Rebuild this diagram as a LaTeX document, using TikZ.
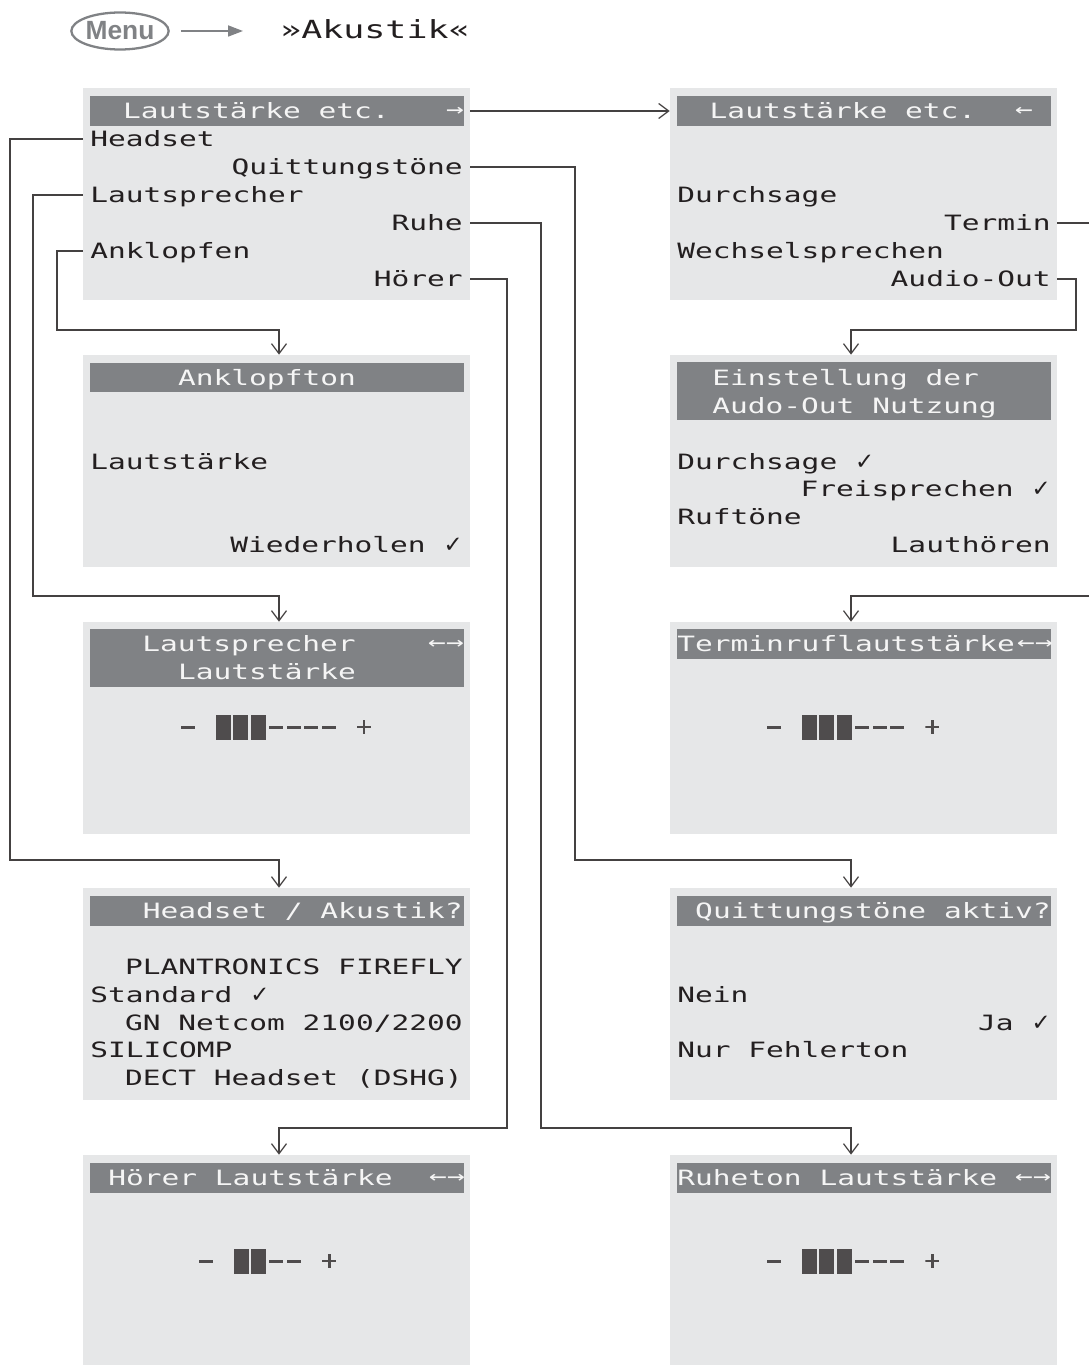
\documentclass[tikz,border=0pt]{standalone}
\usepackage{fontspec}
\usetikzlibrary{positioning,calc,arrows.meta,shapes.geometric}
\newfontfamily\lcdfont[FakeStretch=1.4]{DejaVu Sans Mono}
\newfontfamily\symfont{DejaVu Sans}
\newfontfamily\menufont{Liberation Sans}
\definecolor{BoxGray}{RGB}{230,231,232}
\definecolor{BarGray}{RGB}{128,130,133}
\definecolor{Ink}{RGB}{35,31,32}
\definecolor{LcdWhite}{RGB}{245,245,245}
\newcommand{\chk}{{\symfont\fontsize{13}{13}\selectfont ✓}}
\tikzset{
	box/.style={fill=BoxGray,inner sep=0pt,minimum width=7.74cm,minimum height=4.24cm},
	bar/.style={fill=BarGray,inner sep=0pt,minimum width=7.48cm,minimum height=0.6cm},
	tallbar/.style={bar,minimum height=1.16cm},
	txt/.style={font=\lcdfont\fontsize{12}{14}\selectfont,inner sep=0pt,text height=8.75pt,text depth=0pt,text=Ink},
	htxt/.style={txt,text=LcdWhite},
	harrow/.style={htxt,font=\lcdfont\fontsize{12}{12}\selectfont,text height=6pt},
	link/.style={draw=Ink!85,line width=0.7pt,-{Straight Barb[length=2mm,width=3mm]}},
	volDash/.style={fill=Ink!80,inner sep=0pt,minimum width=0.28cm,minimum height=0.06cm},
	volBlock/.style={fill=Ink!80,inner sep=0pt,minimum width=0.3cm,minimum height=0.5cm},
	volPlus/.style={inner sep=0pt,minimum size=0.28cm,path picture={
		\draw[Ink!80,line width=1.6pt] (path picture bounding box.north) -- (path picture bounding box.south)
			(path picture bounding box.west) -- (path picture bounding box.east);}},
}
% volume bar: name, x of minus, y, blocks, dashes
\newcommand{\volbar}[5]{%
	\node[volDash] (#1m) at (#2,#3) {};
	\foreach \i in {1,...,#4}
		\node[volBlock] (#1b\i) at ({#2+17.6*(\i+1)},#3) {};
	\foreach \j in {1,...,#5}
		\node[volDash] (#1d\j) at ({#2+17.6*(\j+#4+1)},#3) {};
	\node[volPlus] (#1p) at ({#2+17.6*(#4+#5+3)},#3) {};
}

\begin{document}
\begin{tikzpicture}[x=0.02cm,y=-0.02cm]
	\useasboundingbox (0,0) rectangle (1088,1365);
	% menu path
	\node[ellipse,draw=BarGray,line width=1.3pt,minimum width=1.9cm,minimum height=0.74cm,inner sep=0pt,
		font=\menufont\bfseries\fontsize{15}{15}\selectfont,text=BarGray] (menu) at (120,31) {Menu};
	\node[txt,anchor=west,font=\lcdfont\fontsize{14.2}{16}\selectfont,text height=10.3pt] (akus) at (280,29) {»Akustik«};
	\draw[draw=BarGray,line width=1pt,-{Triangle[length=3mm,width=2.2mm]},shorten <=0.22cm,shorten >=0.74cm]
		(menu.east) -- (menu.east -| akus.west);

	% screens, left column
	\node[box] (b1) at (276.5,194) {};
	\node[box] (b2) at (276.5,461) {};
	\node[box] (b3) at (276.5,728) {};
	\node[box] (b4) at (276.5,994) {};
	\node[box] (b5) at (276.5,1261) {};
	% screens, right column
	\node[box] (r1) at (863.5,194) {};
	\node[box] (r2) at (863.5,461) {};
	\node[box] (r3) at (863.5,728) {};
	\node[box] (r4) at (863.5,994) {};
	\node[box] (r5) at (863.5,1261) {};

	% title bars
	\node[bar] (b1h) at (277,111) {};
	\node[bar] (b2h) at (277,377.5) {};
	\node[tallbar] (b3h) at (277,657.5) {};
	\node[bar] (b4h) at (277,911) {};
	\node[bar] (b5h) at (277,1178) {};
	\node[bar] (r1h) at (864,111) {};
	\node[tallbar] (r2h) at (864,391) {};
	\node[bar] (r3h) at (864,644) {};
	\node[bar] (r4h) at (864,911) {};
	\node[bar] (r5h) at (864,1178) {};

	% title texts
	\node[htxt] (b1t) at (256.5,111) {Lautstärke etc.};
	\node[harrow] (b1a) at (455,111) {→};
	\node[htxt] (b2t) at (267,378) {Anklopfton};
	\node[htxt] (b3t) at (249,644) {Lautsprecher};
	\node[harrow] (b3a) at (446,644) {←→};
	\node[htxt] (b3u) at (267,672) {Lautstärke};
	\node[htxt,anchor=east] (b4t) at (463,911) {Headset / Akustik?};
	\node[htxt,anchor=west] (b5t) at (108,1178) {Hörer Lautstärke};
	\node[harrow] (b5a) at (447,1178) {←→};
	\node[htxt] (r1t) at (843,111) {Lautstärke etc.};
	\node[harrow] (r1a) at (1024,111) {←};
	\node[htxt,anchor=west] (r2t) at (712,378) {Einstellung der};
	\node[htxt,anchor=west] (r2u) at (712,406) {Audo-Out Nutzung};
	\node[htxt,anchor=west] (r3t) at (677,644) {Terminruflautstärke};
	\node[harrow] (r3a) at (1035,644) {←→};
	\node[htxt,anchor=east] (r4t) at (1051,911) {Quittungstöne aktiv?};
	\node[htxt,anchor=west] (r5t) at (677,1178) {Ruheton Lautstärke};
	\node[harrow] (r5a) at (1033,1178) {←→};

	% menu entries
	\node[txt,anchor=west] (hs) at (90,139) {Headset};
	\node[txt,anchor=east] (qt) at (463,167) {Quittungstöne};
	\node[txt,anchor=west] (ls) at (90,195) {Lautsprecher};
	\node[txt,anchor=east] (ru) at (463,223) {Ruhe};
	\node[txt,anchor=west] (ak) at (90,251) {Anklopfen};
	\node[txt,anchor=east] (hr) at (463,279) {Hörer};

	\node[txt,anchor=west] (ds) at (677,195) {Durchsage};
	\node[txt,anchor=east] (tm) at (1051,223) {Termin};
	\node[txt,anchor=west] (ws) at (677,251) {Wechselsprechen};
	\node[txt,anchor=east] (ao) at (1051,279) {Audio-Out};

	\node[txt,anchor=west] (akl) at (90,462) {Lautstärke};
	\node[txt,anchor=east] (akw) at (463,545) {Wiederholen \chk};

	\node[txt,anchor=east] (hs1) at (463,967) {PLANTRONICS FIREFLY};
	\node[txt,anchor=west] (hs2) at (90,995) {Standard \chk};
	\node[txt,anchor=east] (hs3) at (463,1023) {GN Netcom 2100/2200};
	\node[txt,anchor=west] (hs4) at (90,1050) {SILICOMP};
	\node[txt,anchor=east] (hs5) at (463,1078) {DECT Headset (DSHG)};

	\node[txt,anchor=west] (au1) at (677,462) {Durchsage \chk};
	\node[txt,anchor=east] (au2) at (1051,489) {Freisprechen \chk};
	\node[txt,anchor=west] (au3) at (677,517) {Ruftöne};
	\node[txt,anchor=east] (au4) at (1051,545) {Lauthören};

	\node[txt,anchor=west] (qt1) at (677,995) {Nein};
	\node[txt,anchor=east] (qt2) at (1051,1023) {Ja \chk};
	\node[txt,anchor=west] (qt3) at (677,1050) {Nur Fehlerton};

	% volume bars
	\volbar{lsv}{188}{727}{3}{4}
	\volbar{hrv}{206}{1261}{2}{2}
	\volbar{tmv}{774}{727}{3}{3}
	\volbar{ruv}{774}{1261}{3}{3}

	% bends of the connectors
	\coordinate (ldrop) at (279,0);
	\coordinate (rdrop) at (851,0);
	\coordinate (hsbend) at (10,860);
	\coordinate (lsbend) at (33,596);
	\coordinate (akbend) at (57,330);
	\coordinate (qtbend) at (575,860);
	\coordinate (rubend) at (541,1128);
	\coordinate (hrbend) at (507,1128);
	\coordinate (tmbend) at (1092,596);
	\coordinate (aobend) at (1076,330);

	\draw[link] (b1.east |- b1h) -- (r1.west |- r1h);
	\draw[link] (b1.west |- hs) -| (hsbend) -| (ldrop |- b4.north);
	\draw[link] (b1.west |- ls) -| (lsbend) -| (ldrop |- b3.north);
	\draw[link] (b1.west |- ak) -| (akbend) -| (ldrop |- b2.north);
	\draw[link] (b1.east |- qt) -| (qtbend) -| (rdrop |- r4.north);
	\draw[link] (b1.east |- ru) -| (rubend) -| (rdrop |- r5.north);
	\draw[link] (b1.east |- hr) -| (hrbend) -| (ldrop |- b5.north);
	\draw[link] (r1.east |- tm) -| (tmbend) -| (rdrop |- r3.north);
	\draw[link] (r1.east |- ao) -| (aobend) -| (rdrop |- r2.north);
\end{tikzpicture}
\end{document}
